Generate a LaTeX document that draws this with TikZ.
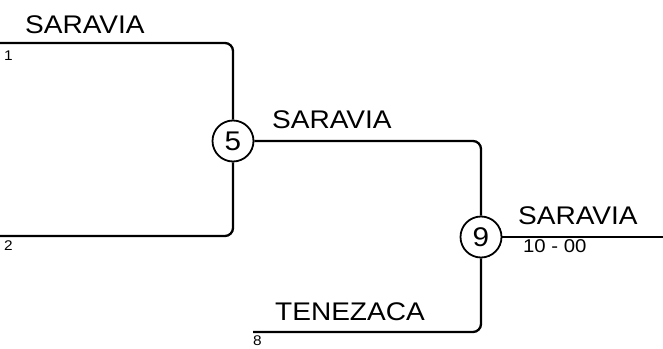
\documentclass[tikz,border=0pt]{standalone}
\usepackage{fontspec}
\usepackage{tikz}
\usetikzlibrary{positioning}
\newfontfamily\teamfont[FakeStretch=1.1]{Liberation Sans}

\begin{document}
\begin{tikzpicture}[x=1pt,y=-1pt,
  line width=2.3pt,
  match/.style={draw,circle,line width=1.8pt,minimum size=41pt,inner sep=0pt,
    font=\teamfont\fontsize{27}{30}\selectfont},
  team/.style={anchor=base west,inner sep=0pt,font=\teamfont\fontsize{25.5}{30}\selectfont},
  seed/.style={anchor=base west,inner sep=0pt,font=\teamfont\fontsize{14}{16}\selectfont},
  score/.style={anchor=base west,inner sep=0pt,font=\teamfont\fontsize{18.5}{21}\selectfont},
  path/.style={rounded corners=8pt}]
\useasboundingbox (0,0) rectangle (663,348);
%matches
\node[match] (M5) at (233,141) {5};
\node[match] (M9) at (481,237) {9};
%seeds
\coordinate (S1) at (0,43);
\coordinate (S2) at (0,236);
\coordinate (S8) at (253,332);
\coordinate (W) at (663,237);

\draw[path] (S1) -| (M5);
\draw[path] (S2) -| (M5);
\draw[path] (M5) -| (M9);
\draw[path] (S8) -| (M9);
\draw (M9) -- (W);

%labels
\node[team] (T1) at (24,33) {SARAVIA};
\node[team] (T5) at (271,128) {SARAVIA};
\node[team] (T9) at (517,224) {SARAVIA};
\node[team] (T8) at (274,320) {TENEZACA};
\node[seed] (N1) at (3,60) {1};
\node[seed] (N2) at (3,250) {2};
\node[seed] (N8) at (252,345.5) {8};
\node[score] (R9) at (522,252) {10 - 00};

\end{tikzpicture}
\end{document}
